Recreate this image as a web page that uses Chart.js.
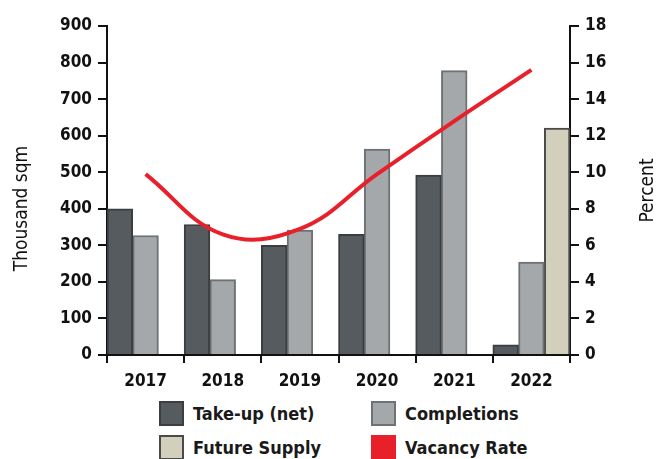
<!DOCTYPE html>
<html>
<head>
<meta charset="utf-8">
<script src="https://cdn.jsdelivr.net/npm/chart.js@4"></script>
<style>
    html, body { margin: 0; padding: 0; background: #fff; }
    body { width: 659px; height: 459px; overflow: hidden; position: relative; font-family: "DejaVu Sans Condensed", "Liberation Sans Narrow", sans-serif; }
    .chart-box { position: absolute; left: 0; top: 0; width: 659px; height: 392px; }
    .legend { position: absolute; left: 159px; top: 401px; display: grid; grid-template-columns: 212px 200px; row-gap: 9px; }
    .legend-item { display: flex; align-items: center; font-size: 18px; font-weight: bold; color: #1a1a1a; height: 25px; }
    .legend-swatch { width: 21px; height: 21px; border: 2px solid #444; margin-right: 9px; box-sizing: content-box; }
</style>
</head>
<body>
<div class="chart-box"><canvas class="vacancy-chart" width="659" height="392"></canvas></div>
<div class="legend"></div>
<script>
const years = ["2017", "2018", "2019", "2020", "2021", "2022"]
const takeUp = [400, 357, 300, 330, 492, 28]
const completions = [327, 206, 342, 563, 778, 254]
const futureSupply = [null, null, null, null, null, 621]
const vacancyRate = [9.9, 6.6, 6.9, 9.9, 12.8, 15.6]
const leftTicks = [0, 100, 200, 300, 400, 500, 600, 700, 800, 900]
const rightTicks = [0, 2, 4, 6, 8, 10, 12, 14, 16, 18]

const tickFont = { family: "DejaVu Sans Condensed", size: 17, weight: "bold" }
const titleFont = { family: "DejaVu Sans Condensed", size: 19 }

// both axis titles drawn by hand: the right one reads bottom-to-top and the left one sits a bit low
const axisTitles = {
    id: "axisTitles",
    afterDraw(chart) {
        const ctx = chart.ctx
        const mid = (chart.chartArea.top + chart.chartArea.bottom) / 2
        const drawTitle = (text, x, y) => {
            ctx.save()
            ctx.translate(x, y)
            ctx.rotate(-Math.PI / 2)
            ctx.font = `${titleFont.size}px "${titleFont.family}"`
            ctx.fillStyle = "#111"
            ctx.textAlign = "center"
            ctx.textBaseline = "middle"
            ctx.fillText(text, 0, 0)
            ctx.restore()
        }
        drawTitle("Thousand sqm", 22, mid + 18)
        drawTitle("Percent", chart.scales.y2.right - 11, mid)
    }
}

const ctx = document.querySelector(".vacancy-chart").getContext("2d")
const vacancyChart = new Chart(ctx, {
    type: "bar",
    data: {
        labels: years,
        datasets: [
            {
                type: "line",
                label: "Vacancy Rate",
                data: vacancyRate,
                yAxisID: "y2",
                borderColor: "#e8202a",
                backgroundColor: "#e8202a",
                borderWidth: 4,
                pointRadius: 0,
                tension: 0.4,
                order: 0
            },
            {
                label: "Take-up (net)",
                data: takeUp,
                yAxisID: "y",
                backgroundColor: "#565b60",
                borderColor: "#3b3e41",
                borderWidth: 2,
                order: 1
            },
            {
                label: "Completions",
                data: completions,
                yAxisID: "y",
                backgroundColor: "#a5a8ab",
                borderColor: "#6f7275",
                borderWidth: 2,
                order: 1
            },
            {
                label: "Future Supply",
                data: futureSupply,
                yAxisID: "y",
                backgroundColor: "#d3cfbd",
                borderColor: "#4a4a48",
                borderWidth: 2,
                order: 1
            }
        ]
    },
    options: {
        responsive: false,
        animation: false,
        layout: { padding: { top: 26, left: 0, right: 0, bottom: 0 } },
        datasets: {
            bar: { categoryPercentage: 1.0, barPercentage: 1.0 }
        },
        plugins: {
            legend: { display: false },
            tooltip: { enabled: false }
        },
        scales: {
            x: {
                offset: true,
                grid: { offset: true, drawOnChartArea: false, color: "#111", tickLength: 8, lineWidth: 2 },
                border: { color: "#111", width: 2 },
                ticks: { color: "#111", font: tickFont, padding: 8, maxRotation: 0 },
                afterFit(scale) { scale.height = 37 }
            },
            y: {
                position: "left",
                min: 0,
                max: 900,
                afterBuildTicks(scale) { scale.ticks = leftTicks.map(v => ({ value: v })) },
                grid: { drawOnChartArea: false, color: "#111", tickLength: 9, lineWidth: 2 },
                border: { color: "#111", width: 2 },
                ticks: { color: "#111", font: tickFont, padding: 6 },
                afterFit(scale) { scale.width = 107 }
            },
            y2: {
                position: "right",
                min: 0,
                max: 18,
                afterBuildTicks(scale) { scale.ticks = rightTicks.map(v => ({ value: v })) },
                grid: { drawOnChartArea: false, color: "#111", tickLength: 9, lineWidth: 2 },
                border: { color: "#111", width: 2 },
                ticks: { color: "#111", font: tickFont, padding: 6 },
                afterFit(scale) { scale.width = 89 }
            }
        }
    },
    plugins: [axisTitles]
})

// html legend in the original two-column layout
const legendEl = document.querySelector(".legend")
const legendOrder = ["Take-up (net)", "Completions", "Future Supply", "Vacancy Rate"]
legendOrder.forEach(name => {
    const ds = vacancyChart.data.datasets.find(d => d.label == name)
    const item = document.createElement("div")
    item.className = "legend-item"
    const swatch = document.createElement("span")
    swatch.className = "legend-swatch"
    swatch.style.background = ds.backgroundColor
    swatch.style.borderColor = ds.borderColor
    const label = document.createElement("span")
    label.textContent = name
    item.appendChild(swatch)
    item.appendChild(label)
    legendEl.appendChild(item)
})
</script>
</body>
</html>
